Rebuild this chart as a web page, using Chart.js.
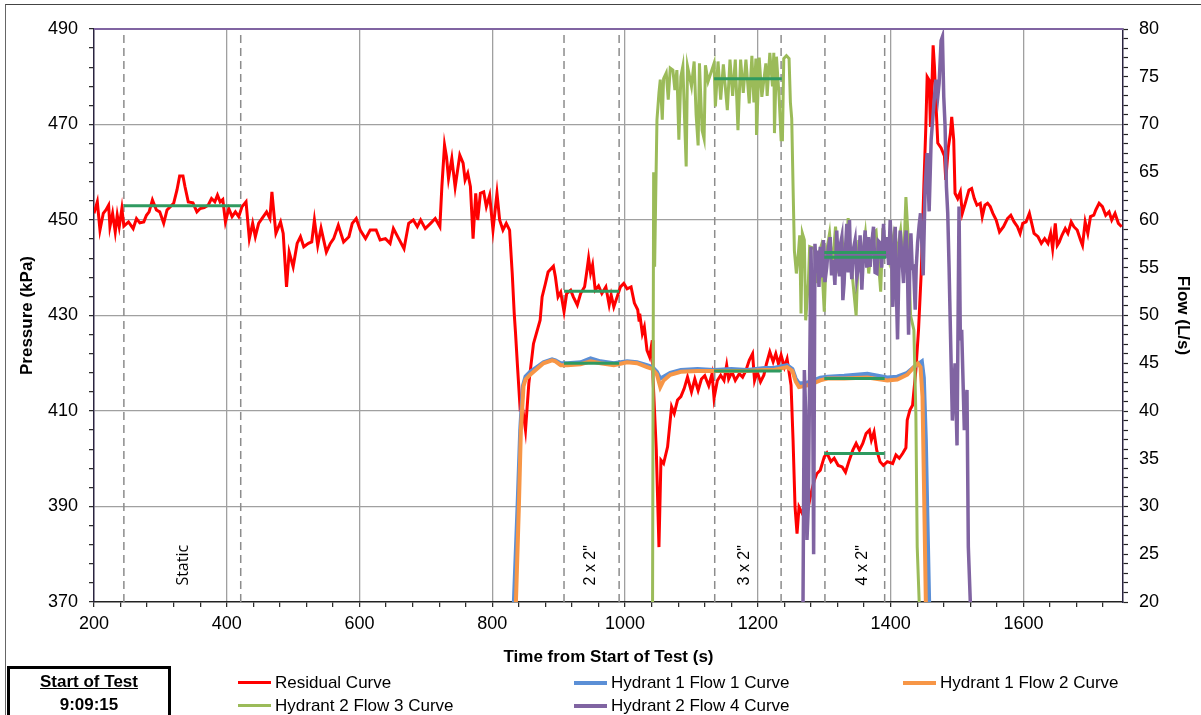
<!DOCTYPE html>
<html>
<head>
<meta charset="utf-8">
<script src="https://cdn.jsdelivr.net/npm/chart.js@4.4.0/dist/chart.umd.min.js"></script>
<style>
  body { margin: 0; background: #fff; overflow: hidden; font-family: "Liberation Sans", Arial, sans-serif; }
  #wrap { position: relative; width: 1201px; height: 715px; overflow: hidden; }
  #frame { position: absolute; left: 5px; top: 4px; width: 1200px; height: 720px; border-top: 1px solid #444; border-left: 1px solid #666; }
  #chart { position: absolute; left: 0; top: 0; }
  .lg { position: absolute; height: 22px; line-height: 22px; font-size: 17px; color: #000; white-space: nowrap; }
  .lg i { display: inline-block; width: 33px; vertical-align: middle; margin-right: 4px; margin-top: -2px; }
  #start { position: absolute; left: 7px; top: 666px; width: 158px; height: 60px; border: 3px solid #000; text-align: center; font-weight: bold; font-size: 17px; }
  #start div { height: 23px; line-height: 23px; }
</style>
</head>
<body>
<div id="wrap">
  <div id="frame"></div>
  <canvas id="chart" width="1201" height="715"></canvas>
  <div id="legend"></div>
  <div id="start"><div style="text-decoration:underline;margin-top:1px">Start of Test</div><div>9:09:15</div></div>
</div>
<script>
const
  timeMin       = 200,
  timeMax       = 1750,
  timeStep      = 40,
  timeLabelStep = 200,
  kpaMin        = 370,
  kpaMax        = 490,
  kpaStep       = 4,
  kpaLabelStep  = 20,
  flowMin       = 20,
  flowMax       = 80,
  flowStep      = 1,
  flowLabelStep = 5,

  // residual pressure (kPa)
  residualTime = [200,205,209,214,218,222,224,228,232,235,238,242,245,252,259,264,269,275,279,283,288,294,299,305,310,315,320,325,329,334,337,342,349,355,360,366,372,377,382,386,390,394,398,403,408,413,418,423,429,434,439,443,448,455,460,465,468,471,474,481,485,490,494,500,506,511,516,523,528,532,537,542,546,550,556,561,568,576,584,589,595,601,609,616,625,631,639,646,651,659,667,674,681,687,692,699,707,714,721,724,728,731,734,739,744,751,756,759,763,767,771,775,778,782,787,791,796,801,807,811,816,821,826,830,833,835,838,842,846,850,855,862,872,875,880,884,892,895,899,903,908,912,918,922,928,933,939,942,945,948,951,955,960,965,971,976,979,983,988,993,998,1003,1009,1014,1019,1021,1022,1026,1029,1033,1037,1041,1042,1047,1051,1054,1058,1064,1070,1074,1079,1084,1089,1094,1100,1105,1110,1115,1120,1126,1131,1134,1139,1144,1149,1153,1156,1161,1166,1172,1177,1182,1187,1192,1195,1199,1204,1209,1213,1218,1223,1227,1231,1235,1240,1244,1250,1253,1256,1259,1262,1267,1271,1275,1280,1285,1289,1294,1300,1304,1310,1315,1321,1327,1332,1337,1343,1348,1353,1358,1363,1368,1371,1375,1379,1384,1389,1395,1403,1408,1413,1418,1423,1425,1429,1433,1438,1442,1446,1450,1453,1455,1458,1460,1462,1464,1466,1468,1471,1476,1481,1483,1487,1490,1492,1495,1497,1501,1505,1508,1513,1518,1522,1526,1530,1535,1538,1542,1546,1550,1554,1559,1564,1570,1576,1581,1586,1591,1595,1599,1604,1609,1612,1616,1622,1627,1632,1637,1641,1644,1648,1651,1654,1658,1663,1667,1672,1676,1681,1686,1689,1693,1697,1701,1706,1709,1714,1719,1724,1729,1733,1738,1743,1748],
  residualKpa  = [451.4,453.8,447.9,451.4,452.1,453.1,448.6,451.4,447.5,451.0,448.6,452.4,448.7,449.6,448.2,450.3,449.4,449.6,451.0,451.7,454.2,452.1,451.7,449.3,452.1,452.8,453.5,456.3,459.2,459.2,457.0,453.8,453.6,451.7,452.4,452.6,453.1,454.5,453.8,455.2,453.8,454.3,449.6,452.4,450.7,451.7,450.7,452.8,453.8,446.1,449.3,446.5,449.3,450.7,451.7,450.3,455.9,451.4,447.2,449.6,447.2,436.0,443.3,440.2,445.1,446.5,444.4,445.1,445.4,450.0,444.7,448.3,445.8,443.3,445.1,446.1,448.9,445.4,446.5,449.3,450.3,447.9,446.1,447.9,447.9,445.8,446.1,445.1,448.2,446.1,444.0,449.3,450.0,448.6,450.0,448.2,449.3,450.3,448.6,457.0,465.7,463.2,458.7,462.9,456.9,463.6,461.9,458.4,459.8,457.0,446.1,455.6,450.0,455.6,455.9,452.8,455.2,447.9,455.6,450.0,447.9,449.3,447.9,438.8,430.4,426.2,419.2,410.2,410.2,406.0,415.8,424.1,429.0,433.9,436.7,439.1,440.3,438.1,433.9,434.9,430.8,434.6,435.3,433.9,432.2,434.6,436.0,438.9,442.0,438.9,440.6,435.3,436.2,434.6,436.0,432.2,434.3,431.8,433.9,436.0,436.7,435.6,436.0,432.6,431.2,429.0,430.4,426.2,427.6,422.7,421.3,424.8,417.1,401.8,381.5,399.7,399.0,402.5,410.9,409.5,412.3,413.0,414.7,417.1,414.0,416.7,414.3,416.7,417.4,415.3,417.8,412.7,416.4,417.5,416.4,419.6,416.7,418.2,416.4,417.8,417.1,418.5,420.6,422.0,416.4,418.2,416.1,417.5,419.9,422.4,420.3,422.0,419.9,421.7,419.2,420.9,415.4,403.9,389.9,384.3,389.9,388.5,389.9,389.3,392.7,395.5,396.9,397.6,400.4,401.2,399.4,400.1,398.6,398.3,397.2,399.4,401.8,403.2,401.8,403.2,405.3,406.0,403.9,405.6,401.8,399.4,398.6,399.4,399.0,400.8,400.1,401.1,402.3,408.1,410.2,411.2,418.6,427.0,438.8,457.0,469.5,480.0,479.3,469.5,477.5,486.6,482.1,475.1,466.1,465.1,463.4,458.4,465.3,468.1,471.6,466.8,455.6,454.5,455.9,451.4,453.8,456.3,456.6,454.5,453.1,453.5,450.7,453.1,453.5,452.8,451.4,450.0,447.5,448.6,450.3,451.0,449.6,448.6,447.2,449.3,449.6,451.4,449.6,447.2,446.5,445.1,446.1,445.1,447.2,444.0,449.3,444.7,445.4,446.8,448.2,447.2,449.6,448.6,447.9,445.8,444.7,449.6,447.2,450.7,451.0,452.1,453.5,452.8,451.0,451.7,450.0,451.4,449.3,448.6],

  // hydrant 1 flows (L/s)
  flow1Time = [830,833,838,842,846,850,857,867,877,890,895,903,913,933,948,963,983,1003,1018,1033,1041,1048,1053,1058,1068,1084,1109,1134,1160,1184,1210,1224,1244,1252,1257,1262,1270,1280,1294,1305,1330,1365,1395,1410,1425,1435,1443,1447,1450,1453,1455,1458,1460],
  flow1Lps  = [15,21,30,38,42.6,43.6,44.1,44.6,45.1,45.4,45.3,45.0,45.0,45.1,45.5,45.2,45.0,45.2,45.1,44.8,44.6,44.1,43.4,43.6,44.0,44.3,44.4,44.3,44.4,44.3,44.5,44.5,44.8,44.4,43.4,42.9,42.9,43.1,43.5,43.6,43.7,43.9,43.5,43.6,44.0,44.6,45.0,45.2,43.5,37,30,20,12],
  flow2Time = [833,836,840,843,847,850,857,867,877,890,895,903,913,933,948,963,983,1003,1018,1033,1041,1048,1053,1058,1068,1084,1109,1134,1160,1184,1210,1224,1244,1252,1257,1262,1270,1280,1294,1305,1330,1365,1395,1410,1425,1435,1441,1445,1448,1450.5,1453,1455],
  flow2Lps  = [15,21,30,38,42.6,43.3,43.8,44.4,45.0,45.3,45.2,44.8,44.8,44.9,45.2,45.0,44.8,45.1,45.0,44.6,44.4,43.8,42.5,43.2,43.8,44.1,44.2,44.2,44.2,44.2,44.3,44.3,44.6,44.2,43.1,42.5,42.6,42.8,43.2,43.4,43.4,43.5,43.2,43.3,43.8,44.6,45.0,44.6,41.5,31,20,12],

  // hydrant 2 flows (L/s)
  flow3Time = [1041,1043,1044.5,1046,1048,1051,1053,1056,1058,1062,1065,1068,1072,1075,1078,1081,1084,1087,1090,1092,1094,1100,1104,1107,1110,1112,1116,1119,1121,1125,1134,1136,1140,1144,1148,1154,1158,1162,1166,1170,1174,1178,1182,1187,1191,1194,1197,1198,1202,1206,1212,1214,1218,1222,1224,1225,1228,1232,1235,1237,1239,1243,1247,1249,1251,1253,1255,1258,1261,1263,1265,1267,1270,1272,1276,1278,1285,1290,1292,1295,1300,1303,1308,1312,1317,1322,1327,1332,1336,1341,1348,1352,1357,1362,1367,1373,1378,1385,1388,1393,1398,1405,1410,1415,1420,1421,1423,1426,1430,1435,1438,1440,1443,1445],
  flow3Lps  = [10,65.0,55.1,62,70.5,73.3,74.7,70.5,74.8,75.4,72.6,75.9,75.7,73.6,75.7,68.4,75.0,76.1,69.8,65.6,76.1,74.0,76.6,71.0,67.8,76.4,69.4,68.5,76.2,74.5,76.4,71.9,76.6,72.6,76.3,71.5,76.8,73.0,76.8,69.4,76.8,73.3,76.8,72.2,77.2,72.3,76.9,68.9,77.0,72.9,76.4,73.0,77.5,74.0,77.5,69.1,77.1,72.9,68.4,68.4,76.9,77.2,76.9,72.3,70.6,63.5,56.8,54.4,56.5,58.4,50.2,58.6,57.9,49.5,53.4,57.2,57.0,53.4,56.5,57.2,50.4,56.5,58.6,55.1,59.3,54.4,57.9,54.8,60.2,55.1,50.0,57.9,55.8,58.6,54.4,58.6,58.9,52.5,58.6,57.9,55.8,58.6,56.8,58.9,54.4,58.6,62.4,58.6,50.0,48.5,39.7,25.8,20,12],
  flow4Time = [1266,1268,1270,1272,1274,1276,1278,1280,1282,1284,1286,1288,1290,1292,1294,1296,1298.7,1301,1303.8,1306,1308.8,1311,1313.8,1316,1318.8,1321,1322.9,1324.5,1326.4,1328,1329.9,1332,1334,1336,1338,1339.5,1341.5,1344,1346.5,1349,1351.5,1354,1356.6,1359,1361.6,1364,1366.6,1369.1,1371.5,1374.2,1376.5,1379.2,1381.5,1384.2,1386.5,1389.3,1391.5,1394.3,1397,1399.3,1401.5,1403.3,1405,1406.9,1408.5,1410.4,1412.5,1414.4,1417,1419.4,1421.5,1423.5,1425.5,1427,1429,1430.5,1432.5,1434.5,1437,1438.5,1440.6,1443,1445,1449,1452,1455,1458,1461,1466,1468,1471,1473,1476,1478,1480,1482,1484,1486,1488,1490,1493,1497,1500,1503,1505,1507,1511,1515,1517,1520,1522],
  flow4Lps  = [10,20,44.3,40,26.5,30,44,57.2,48,25,57.5,54.5,56.8,53.0,57.2,54.0,57.9,53.5,55.1,57.0,58.2,54.2,55.8,53.2,58.9,55.5,54.1,57.5,58.2,51.6,53.4,57.0,59.6,54.5,60.0,56.0,53.8,57.0,57.9,54.0,55.1,58.4,52.7,56.5,58.9,55.0,58.2,55.1,57.5,59.3,54.5,54.4,57.8,57.6,55.0,59.6,56.0,58.2,55.3,60.0,56.5,50.9,55.0,59.3,53.0,47.5,55.0,58.9,56.0,53.4,57.5,58.9,54.0,48.0,55.5,58.6,55.0,55.1,50.6,55.0,57.6,59.5,60.7,54.2,63.5,67.0,60.9,68.4,72.9,74.7,72.9,74.3,78.8,79.2,72.9,69.8,63.5,60.7,55.1,48.5,39,45,36.4,61.4,47.4,48.5,38,42.2,25.8,20,10],

  // test sections
  sectionBounds   = [245,421,908,991,1135,1235,1301,1391],
  sectionNames    = ['Static','2 x 2"','3 x 2"','4 x 2"'],
  sectionLabelAt  = [334,948,1180,1358],
  sectionLabelKpa = 377.7,

  // averaged values over each section
  refStart = [245,908,908,1134,1134,1300,1300,1300,1300],
  refEnd   = [421,991,991,1236,1236,1391,1391,1393,1393],
  refLevel = [453.0,435.1,45.0,74.8,44.2,401.1,43.4,56.6,56.1],
  refAxis  = ['y','y','y2','y2','y2','y','y2','y2','y2'];

function pairUp(ts, vs) {
  return ts.map(function(t, i) { return { x : t, y : vs[i] }; });
}

function curve(label, ts, vs, color, width, axis, order) {
  return {
    label       : label,
    data        : pairUp(ts, vs),
    yAxisID     : axis,
    borderColor : color,
    borderWidth : width,
    pointRadius : 0,
    order       : order,
    inLegend    : true
  };
}

let
  datasets = [
    curve('Residual Curve',         residualTime, residualKpa, '#FF0000', 3,   'y',  5),
    curve('Hydrant 1 Flow 1 Curve', flow1Time,    flow1Lps,    '#5B8FD6', 4,   'y2', 4),
    curve('Hydrant 1 Flow 2 Curve', flow2Time,    flow2Lps,    '#F79646', 4,   'y2', 3),
    curve('Hydrant 2 Flow 3 Curve', flow3Time,    flow3Lps,    '#9BBB59', 3,   'y2', 2),
    curve('Hydrant 2 Flow 4 Curve', flow4Time,    flow4Lps,    '#8064A2', 3.5, 'y2', 1)
  ];

sectionBounds.forEach(function(t) {
  datasets.push({
    data        : [{ x : t, y : kpaMin }, { x : t, y : kpaMax }],
    yAxisID     : 'y',
    borderColor : '#8C8C8C',
    borderWidth : 1.5,
    borderDash  : [8, 5],
    pointRadius : 0,
    order       : 10
  });
});

refLevel.forEach(function(v, i) {
  datasets.push({
    data        : [{ x : refStart[i], y : v }, { x : refEnd[i], y : v }],
    yAxisID     : refAxis[i],
    borderColor : '#2F9A60',
    borderWidth : 3,
    pointRadius : 0,
    order       : 0
  });
});

const extras = {
  id : 'extras',
  afterDatasetsDraw : function(chart) {
    let
      ctx = chart.ctx,
      sx  = chart.scales.x,
      sy  = chart.scales.y;
    ctx.save();
    ctx.fillStyle = '#000';
    ctx.textAlign = 'center';
    ctx.textBaseline = 'middle';
    sectionNames.forEach(function(name, i) {
      ctx.save();
      ctx.translate(sx.getPixelForValue(sectionLabelAt[i]), sy.getPixelForValue(sectionLabelKpa));
      ctx.rotate(-Math.PI / 2);
      ctx.font = i === 0 ? '16px "Open Sans"' : '16px "Liberation Sans"';
      ctx.fillText(name, 0, 0);
      ctx.restore();
    });
    ctx.restore();
  },
  afterDraw : function(chart) {
    let
      ctx  = chart.ctx,
      area = chart.chartArea;
    ctx.save();
    ctx.strokeStyle = '#8064A2';
    ctx.lineWidth = 2;
    ctx.beginPath();
    ctx.moveTo(area.left, area.top);
    ctx.lineTo(area.right, area.top);
    ctx.stroke();
    ctx.restore();
  }
};

function stepTicks(lo, hi, step) {
  return function(scale) {
    let t = [];
    for (let v = lo; v <= hi + 1e-9; v += step) t.push({ value : v });
    scale.ticks = t;
  };
}

const
  tickFont  = { family : '"Liberation Sans", Arial, sans-serif', size : 18 },
  titleFont = { family : '"Liberation Sans", Arial, sans-serif', size : 17, weight : 'bold' };

let chart = new Chart(document.getElementById('chart').getContext('2d'), {
  type : 'line',
  data : { datasets : datasets },
  plugins : [extras],
  options : {
    responsive       : false,
    animation        : false,
    devicePixelRatio : 1,
    events           : [],
    layout : { padding : { left : 10, right : 5, top : 29, bottom : 47 } },
    plugins : { legend : { display : false }, tooltip : { enabled : false } },
    scales : {
      x : {
        type : 'linear', min : timeMin, max : timeMax,
        afterBuildTicks : stepTicks(timeMin, timeMax, timeStep),
        afterFit : function(s) { s.height = 66; },
        ticks : {
          autoSkip : false, maxRotation : 0, minRotation : 0, padding : 6,
          color : '#000', font : tickFont,
          callback : function(v) { return (v - timeMin) % timeLabelStep === 0 ? v : ''; }
        },
        grid : {
          color : function(c) {
            let v = c.tick ? c.tick.value : 0;
            return (v - timeMin) % timeLabelStep === 0 && v !== timeMin ? '#A0A0A0' : 'rgba(0,0,0,0)';
          },
          lineWidth : 1.3, tickColor : '#222', tickLength : 5, tickWidth : 1.2
        },
        border : { color : '#222', width : 1.5 },
        title : { display : true, text : 'Time from Start of Test (s)', color : '#000', font : titleFont, padding : 0 }
      },
      y : {
        type : 'linear', position : 'left', min : kpaMin, max : kpaMax,
        afterBuildTicks : stepTicks(kpaMin, kpaMax, kpaStep),
        afterFit : function(s) { s.width = 84; },
        ticks : {
          autoSkip : false, padding : 11, color : '#000', font : tickFont,
          callback : function(v) { return (v - kpaMin) % kpaLabelStep === 0 ? v : ''; }
        },
        grid : {
          color : function(c) {
            let v = c.tick ? c.tick.value : kpaMin;
            return (v - kpaMin) % kpaLabelStep === 0 && v !== kpaMin && v !== kpaMax ? '#A0A0A0' : 'rgba(0,0,0,0)';
          },
          lineWidth : 1.3, tickColor : '#222', tickLength : 5, tickWidth : 1.2
        },
        border : { color : '#2A2440', width : 1.5 },
        title : { display : true, text : 'Pressure (kPa)', color : '#000', font : titleFont, padding : { top : 7, bottom : 0 } }
      },
      y2 : {
        type : 'linear', position : 'right', min : flowMin, max : flowMax,
        afterBuildTicks : stepTicks(flowMin, flowMax, flowStep),
        afterFit : function(s) { s.width = 73; },
        ticks : {
          autoSkip : false, padding : 11, color : '#000', font : tickFont,
          callback : function(v) { return (v - flowMin) % flowLabelStep === 0 ? v : ''; }
        },
        grid : { drawOnChartArea : false, tickColor : '#222', tickLength : 5, tickWidth : 1.2 },
        border : { color : '#2A2440', width : 1.5 },
        title : { display : true, text : 'Flow (L/s)', color : '#000', font : titleFont, padding : { top : 3, bottom : 0 } }
      }
    }
  }
});

// legend laid out in three columns like the original sheet
let
  legend     = document.getElementById('legend'),
  legendCols = [238, 574, 903],
  legendRows = [672, 695];

chart.data.datasets.filter(function(d) { return d.inLegend; }).forEach(function(d, i) {
  let item = document.createElement('div');
  item.className = 'lg';
  item.style.left = legendCols[i % 3] + 'px';
  item.style.top = legendRows[Math.floor(i / 3)] + 'px';
  item.innerHTML = '<i style="height:' + Math.round(d.borderWidth) + 'px;background:' + d.borderColor + '"></i>' + d.label;
  legend.appendChild(item);
});
</script>
</body>
</html>
